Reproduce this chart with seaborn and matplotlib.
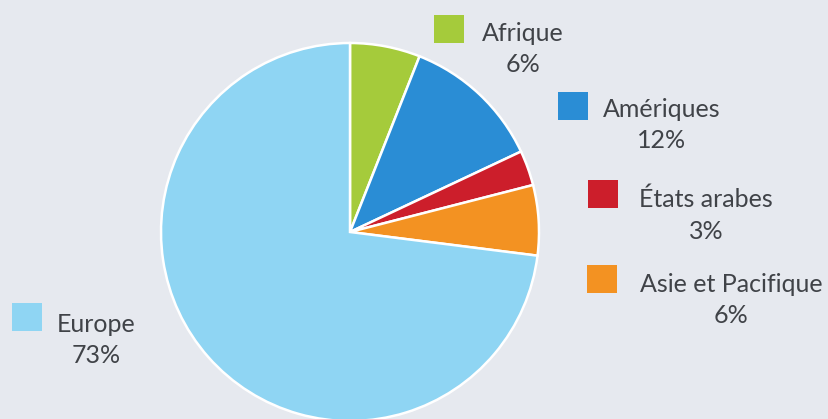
import matplotlib
matplotlib.use("Agg")
import matplotlib.pyplot as plt
import seaborn as sns

# Répartition par région (en %)
regions = ["Afrique", "Amériques", "États arabes", "Asie et Pacifique", "Europe"]
parts = [6, 12, 3, 6, 73]
couleurs = ["#a5cb3b", "#2a8dd5", "#cc1e2b", "#f39222", "#8fd5f3"]

# position (en pixels) des carrés de légende et du centre du texte
legende_pos = [(434, 15, 523, 49), (558, 92, 662, 125), (588, 180, 706, 215),
               (587, 265, 731, 300), (12, 303, 96, 340)]

sns.set_theme(style="white")
plt.rcParams["font.family"] = ["Lato", "DejaVu Sans"]

W, H = 829, 419
fig = plt.figure(figsize=(W / 100, H / 100), dpi=100)
fig.patch.set_facecolor("#e6e9ef")
ax = fig.add_axes([0, 0, 1, 1])
ax.set_facecolor("#e6e9ef")

# axe y retourné : startangle=-90 pointe vers le haut
wedges, _ = ax.pie(parts, colors=couleurs, startangle=-90, counterclock=True,
                   center=(350, 232), radius=189, frame=True,
                   wedgeprops=dict(edgecolor="white", linewidth=1.8))
ax.set_xlim(0, W)
ax.set_ylim(H, 0)
ax.set_aspect("equal")
ax.axis("off")

for nom, val, col, (sx, sy, tx, ty) in zip(regions, parts, couleurs, legende_pos):
    ax.add_patch(plt.Rectangle((sx, sy), 30, 28, facecolor=col, edgecolor="none"))
    ax.text(tx, ty, f"{nom}\n{val}%", ha="center", va="center", fontsize=18,
            color="#404348", linespacing=1.45)

fig.savefig("out.png", dpi=100, facecolor=fig.get_facecolor())
